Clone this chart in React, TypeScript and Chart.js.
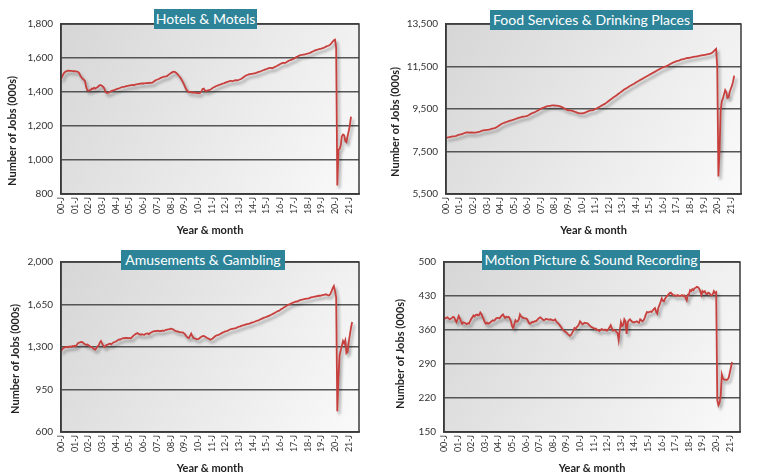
import React, { useEffect, useRef } from "react";
import { Chart, registerables } from "chart.js";

Chart.register(...registerables);

// Monthly payroll jobs (000s), one row per year starting in 2000
const hotelsMotels = [
  1475, 1490, 1505, 1515, 1520, 1523, 1525, 1525, 1524, 1524, 1523, 1522,
  1523, 1522, 1520, 1518, 1510, 1495, 1485, 1478, 1472, 1465, 1430, 1410,
  1408, 1410, 1412, 1420, 1418, 1425, 1420, 1425, 1428, 1435, 1440, 1440,
  1435, 1430, 1420, 1400, 1395, 1395, 1398, 1400, 1405, 1408, 1410, 1412,
  1415, 1418, 1420, 1422, 1425, 1428, 1430, 1430, 1432, 1435, 1435, 1437,
  1438, 1440, 1440, 1442, 1440, 1444, 1445, 1446, 1448, 1448, 1450, 1450,
  1450, 1451, 1452, 1452, 1453, 1452, 1455, 1454, 1455, 1460, 1465, 1470,
  1472, 1475, 1478, 1482, 1485, 1487, 1490, 1490, 1492, 1495, 1500, 1505,
  1510, 1514, 1518, 1520, 1517, 1512, 1505, 1497, 1490, 1480, 1468, 1455,
  1440, 1425, 1412, 1405, 1400, 1400, 1398, 1397, 1397, 1396, 1395, 1394,
  1395, 1393, 1395, 1405, 1418, 1420, 1410, 1405, 1408, 1410, 1412, 1415,
  1420, 1425, 1428, 1432, 1435, 1438, 1440, 1443, 1445, 1448, 1450, 1452,
  1455, 1458, 1460, 1462, 1465, 1465, 1463, 1465, 1468, 1470, 1468, 1470,
  1472, 1475, 1478, 1482, 1488, 1492, 1497, 1500, 1502, 1505, 1505, 1507,
  1508, 1510, 1510, 1513, 1515, 1518, 1520, 1522, 1525, 1528, 1530, 1533,
  1535, 1538, 1540, 1542, 1542, 1540, 1543, 1546, 1550, 1553, 1557, 1560,
  1565, 1568, 1570, 1572, 1570, 1573, 1578, 1582, 1585, 1588, 1590, 1593,
  1596, 1600, 1605, 1608, 1612, 1615, 1617, 1618, 1620, 1620, 1622, 1624,
  1625, 1628, 1630, 1633, 1637, 1640, 1643, 1646, 1648, 1650, 1652, 1653,
  1655, 1658, 1660, 1663, 1667, 1670, 1672, 1675, 1680, 1688, 1697, 1705,
  1708, 1660, 850, 1060, 1065, 1085, 1140, 1150, 1145, 1112, 1105, 1140,
  1170, 1205, 1255,
];

const foodServices = [
  8135, 8150, 8170, 8180, 8190, 8200, 8210, 8215, 8225, 8240, 8260, 8280,
  8290, 8300, 8320, 8340, 8360, 8380, 8400, 8400, 8395, 8390, 8395, 8400,
  8390, 8385, 8390, 8400, 8410, 8425, 8440, 8460, 8480, 8490, 8500, 8510,
  8515, 8520, 8530, 8540, 8560, 8575, 8590, 8600, 8620, 8650, 8690, 8720,
  8760, 8790, 8820, 8840, 8860, 8880, 8900, 8920, 8940, 8955, 8970, 8985,
  9000, 9020, 9040, 9060, 9080, 9095, 9110, 9125, 9135, 9140, 9150, 9170,
  9180, 9210, 9240, 9270, 9300, 9320, 9340, 9360, 9390, 9420, 9450, 9480,
  9510, 9540, 9560, 9580, 9600, 9620, 9630, 9640, 9650, 9660, 9670, 9670,
  9665, 9660, 9655, 9650, 9640, 9620, 9600, 9580, 9550, 9520, 9490, 9460,
  9450, 9440, 9430, 9420, 9410, 9390, 9370, 9350, 9330, 9310, 9300, 9295,
  9290, 9300, 9310, 9330, 9350, 9380, 9400, 9420, 9430, 9440, 9450, 9470,
  9500, 9520, 9550, 9580, 9610, 9640, 9670, 9700, 9730, 9760, 9800, 9840,
  9880, 9920, 9960, 10000, 10040, 10080, 10110, 10150, 10190, 10230, 10270, 10310,
  10350, 10390, 10430, 10460, 10490, 10520, 10560, 10590, 10620, 10650, 10680, 10710,
  10750, 10780, 10810, 10840, 10870, 10900, 10930, 10960, 10990, 11020, 11050, 11080,
  11110, 11140, 11170, 11200, 11230, 11260, 11290, 11320, 11350, 11380, 11410, 11440,
  11460, 11480, 11500, 11520, 11540, 11570, 11600, 11630, 11660, 11690, 11710, 11730,
  11750, 11770, 11780, 11800, 11820, 11840, 11850, 11860, 11880, 11890, 11900, 11910,
  11920, 11930, 11940, 11950, 11960, 11970, 11980, 11990, 12000, 12010, 12020, 12030,
  12040, 12050, 12060, 12070, 12080, 12090, 12100, 12130, 12170, 12220, 12280, 12330,
  11460, 6320, 7500, 9400, 9850, 10000, 10200, 10390, 10300, 10020, 10050, 10300,
  10450, 10600, 10800, 11070,
];

const amusementsGambling = [
  1262, 1280, 1292, 1295, 1300, 1302, 1298, 1303, 1305, 1300, 1308, 1306,
  1310, 1305, 1320, 1333, 1336, 1340, 1341, 1338, 1330, 1322, 1318, 1320,
  1315, 1308, 1302, 1300, 1290, 1282, 1278, 1290, 1305, 1314, 1335, 1349,
  1330, 1310, 1300, 1308, 1318, 1320, 1325, 1327, 1322, 1330, 1338, 1341,
  1345, 1352, 1358, 1363, 1362, 1368, 1370, 1374, 1372, 1376, 1374, 1373,
  1374, 1370, 1380, 1390, 1398, 1405, 1410, 1415, 1408, 1404, 1400, 1405,
  1402, 1400, 1408, 1410, 1412, 1405, 1415, 1420, 1425, 1428, 1432, 1430,
  1432, 1434, 1430, 1433, 1432, 1436, 1432, 1438, 1442, 1444, 1446, 1448,
  1451, 1450, 1446, 1440, 1434, 1429, 1428, 1425, 1422, 1420, 1420, 1418,
  1410, 1400, 1385, 1378, 1374, 1392, 1410, 1390, 1374, 1372, 1368, 1363,
  1365, 1370, 1378, 1385, 1390, 1391, 1386, 1380, 1374, 1370, 1365, 1360,
  1365, 1372, 1380, 1388, 1395, 1398, 1400, 1405, 1410, 1416, 1420, 1425,
  1428, 1430, 1434, 1440, 1444, 1448, 1450, 1452, 1454, 1456, 1460, 1465,
  1468, 1470, 1474, 1478, 1480, 1483, 1486, 1488, 1490, 1492, 1496, 1500,
  1503, 1506, 1510, 1514, 1518, 1520, 1525, 1530, 1534, 1538, 1542, 1545,
  1548, 1552, 1556, 1560, 1565, 1570, 1575, 1580, 1586, 1590, 1596, 1600,
  1605, 1612, 1618, 1625, 1630, 1636, 1642, 1648, 1650, 1655, 1660, 1665,
  1668, 1672, 1676, 1675, 1680, 1684, 1688, 1690, 1692, 1695, 1697, 1698,
  1698, 1700, 1704, 1708, 1710, 1712, 1715, 1716, 1718, 1720, 1722, 1722,
  1725, 1728, 1730, 1732, 1734, 1730, 1726, 1725, 1738, 1760, 1785, 1802,
  1760, 1710, 770, 1050, 1230, 1270, 1310, 1350, 1330, 1355, 1250, 1260,
  1340, 1400, 1460, 1506,
];

const motionPicture = [
  383, 384, 385, 386, 384, 382, 383, 385, 387, 386, 380, 376,
  382, 389, 384, 378, 373, 376, 375, 374, 372, 374, 373, 378,
  383, 386, 390, 388, 391, 392, 390, 391, 396, 393, 387, 382,
  376, 373, 375, 373, 374, 376, 378, 380, 379, 381, 384, 385,
  385, 384, 387, 390, 392, 388, 385, 387, 386, 387, 384, 378,
  368, 364, 372, 380, 377, 378, 382, 392, 388, 386, 385, 384,
  384, 383, 379, 374, 373, 375, 377, 376, 378, 378, 380, 383,
  385, 386, 384, 382, 380, 381, 383, 382, 382, 381, 382, 381,
  380, 380, 382, 378, 375, 373, 370, 367, 363, 360, 358, 356,
  355, 352, 350, 348, 350, 354, 358, 364, 362, 366, 368, 372,
  378, 375, 372, 373, 375, 374, 374, 373, 370, 368, 366, 365,
  364, 362, 363, 360, 360, 358, 360, 362, 361, 360, 361, 359,
  359, 362, 366, 370, 363, 359, 360, 359, 356, 354, 339, 360,
  376, 368, 370, 382, 378, 352, 376, 380, 382, 379, 377, 376,
  376, 377, 378, 376, 375, 382, 380, 378, 380, 385, 392, 397,
  396, 397, 398, 397, 400, 403, 405, 398, 394, 406, 411, 418,
  425, 420, 419, 425, 428, 431, 433, 436, 437, 434, 432, 431,
  431, 430, 432, 431, 430, 431, 432, 430, 431, 426, 421, 433,
  433, 442, 440, 444, 442, 446, 447, 449, 448, 445, 440, 432,
  440, 438, 440, 435, 434, 437, 436, 432, 431, 434, 440, 436,
  438, 215, 205, 210, 225, 268, 260, 258, 258, 257, 258, 262,
  272, 283, 294,
];

// January of each year, one label every 12 months
const yearLabels = [
  "00-J", "01-J", "02-J", "03-J", "04-J", "05-J", "06-J", "07-J", "08-J", "09-J", "10-J",
  "11-J", "12-J", "13-J", "14-J", "15-J", "16-J", "17-J", "18-J", "19-J", "20-J", "21-J",
];

const FONT = "Lato, 'Noto Sans', sans-serif";
const LINE_COLOR = "#c8403e";
const FRAME_COLOR = "#3a3a3a";
const GRID_COLOR = "#555555";
const BADGE_COLOR = "#2d8499";
const CANVAS_W = 382;
const X_MAX = 261;

type Panel = {
  title: string;
  values: number[];
  yMin: number;
  yMax: number;
  yStep: number;
  left: number;
  top: number;
  height: number;
  plotLeft: number;
  plotRight: number;
  plotTop: number;
  plotBottom: number;
  badge: { x: number; y: number; w: number };
  yTitle: { x: number; y: number };
};

const panels: Panel[] = [
  {
    title: "Hotels & Motels",
    values: hotelsMotels,
    yMin: 800, yMax: 1800, yStep: 200,
    left: 0, top: 0, height: 237,
    plotLeft: 61, plotRight: 359, plotTop: 24, plotBottom: 194,
    badge: { x: 154, y: 9, w: 103 },
    yTitle: { x: 12, y: 131 },
  },
  {
    title: "Food Services & Drinking Places",
    values: foodServices,
    yMin: 5500, yMax: 13500, yStep: 2000,
    left: 382, top: 0, height: 237,
    plotLeft: 64, plotRight: 359, plotTop: 24, plotBottom: 194,
    badge: { x: 108, y: 10, w: 203 },
    yTitle: { x: 13, y: 122 },
  },
  {
    title: "Amusements & Gambling",
    values: amusementsGambling,
    yMin: 600, yMax: 2000, yStep: 350,
    left: 0, top: 237, height: 238,
    plotLeft: 61, plotRight: 359, plotTop: 25, plotBottom: 195,
    badge: { x: 121, y: 13, w: 164 },
    yTitle: { x: 15, y: 122 },
  },
  {
    title: "Motion Picture & Sound Recording",
    values: motionPicture,
    yMin: 150, yMax: 500, yStep: 70,
    left: 382, top: 237, height: 238,
    plotLeft: 62, plotRight: 358, plotTop: 25, plotBottom: 195,
    badge: { x: 100, y: 13, w: 218 },
    yTitle: { x: 18, y: 117 },
  },
];

// Grey diagonal gradient behind the plotting area
const plotBackground = {
  id: "plotBackground",
  beforeDraw(chart: any) {
    const { ctx, chartArea: a } = chart;
    const g = ctx.createLinearGradient(a.left, a.top, a.right, a.bottom);
    g.addColorStop(0, "#d6d6d6");
    g.addColorStop(1, "#fafafa");
    ctx.save();
    ctx.fillStyle = g;
    ctx.fillRect(a.left, a.top, a.right - a.left, a.bottom - a.top);
    ctx.restore();
  },
};

// Soft drop shadow under the series line
const lineShadow = {
  id: "lineShadow",
  beforeDatasetDraw(chart: any) {
    const ctx = chart.ctx;
    ctx.save();
    ctx.shadowColor = "rgba(0,0,0,0.35)";
    ctx.shadowBlur = 3;
    ctx.shadowOffsetX = 2;
    ctx.shadowOffsetY = 3;
  },
  afterDatasetDraw(chart: any) {
    chart.ctx.restore();
  },
};

function makeFramePlugin(p: Panel) {
  return {
    id: "plotFrame",
    afterDraw(chart: any) {
      const { ctx, chartArea: a } = chart;
      ctx.save();
      ctx.strokeStyle = FRAME_COLOR;
      ctx.lineWidth = 1.5;
      ctx.strokeRect(a.left, a.top, a.right - a.left, a.bottom - a.top);
      ctx.translate(p.yTitle.x, p.yTitle.y);
      ctx.rotate(-Math.PI / 2);
      ctx.font = `bold 11px ${FONT}`;
      ctx.fillStyle = "#222";
      ctx.textAlign = "center";
      ctx.textBaseline = "middle";
      ctx.fillText("Number of Jobs (000s)", 0, 0);
      ctx.restore();
    },
  };
}

function ChartPanel({ p }: { p: Panel }) {
  const ref = useRef<HTMLCanvasElement>(null);

  useEffect(() => {
    const canvas = ref.current;
    if (!canvas) return;
    const chart = new Chart(canvas, {
      type: "line",
      data: {
        datasets: [
          {
            data: p.values.map((v, i) => ({ x: i, y: v })),
            borderColor: LINE_COLOR,
            borderWidth: 1.8,
            pointRadius: 0,
            tension: 0,
            fill: false,
          },
        ],
      },
      options: {
        responsive: false,
        animation: false,
        devicePixelRatio: 1,
        layout: {
          padding: { left: 0, top: p.plotTop, right: CANVAS_W - p.plotRight, bottom: 0 },
        },
        plugins: {
          legend: { display: false },
          tooltip: { enabled: false },
        },
        scales: {
          x: {
            type: "linear",
            min: 0,
            max: X_MAX,
            afterFit: (s: any) => {
              s.height = p.height - p.plotBottom;
            },
            grid: { display: false, drawTicks: false },
            border: { color: FRAME_COLOR, width: 1.5 },
            ticks: {
              stepSize: 12,
              includeBounds: false,
              autoSkip: false,
              minRotation: 90,
              maxRotation: 90,
              padding: 3,
              color: "#333",
              font: { family: FONT, size: 9 },
              callback: (v: any) => yearLabels[Math.round(Number(v) / 12)] ?? "",
            },
            title: {
              display: true,
              text: "Year & month",
              color: "#222",
              padding: 0,
              font: { family: FONT, size: 11, weight: "bold" },
            },
          },
          y: {
            min: p.yMin,
            max: p.yMax,
            afterFit: (s: any) => {
              s.width = p.plotLeft;
            },
            grid: { color: GRID_COLOR, lineWidth: 1.5, drawTicks: false },
            border: { color: FRAME_COLOR, width: 1.5 },
            ticks: {
              stepSize: p.yStep,
              padding: 8,
              color: "#333",
              font: { family: FONT, size: 10 },
              callback: (v: any) => Number(v).toLocaleString("en-US"),
            },
          },
        },
      } as any,
      plugins: [plotBackground, lineShadow, makeFramePlugin(p)],
    });
    return () => chart.destroy();
  }, [p]);

  return (
    <div style={{ position: "absolute", left: p.left, top: p.top, width: CANVAS_W, height: p.height }}>
      <canvas ref={ref} width={CANVAS_W} height={p.height} style={{ display: "block" }} />
      <div
        style={{
          position: "absolute",
          left: p.badge.x,
          top: p.badge.y,
          width: p.badge.w,
          height: 20,
          background: BADGE_COLOR,
          color: "#fff",
          fontFamily: FONT,
          fontSize: 14,
          lineHeight: "20px",
          textAlign: "center",
          whiteSpace: "nowrap",
        }}
      >
        {p.title}
      </div>
    </div>
  );
}

export default function App() {
  return (
    <div style={{ position: "absolute", left: 0, top: 0, width: 764, height: 475, background: "#fff" }}>
      {panels.map((p) => (
        <ChartPanel key={p.title} p={p} />
      ))}
    </div>
  );
}
